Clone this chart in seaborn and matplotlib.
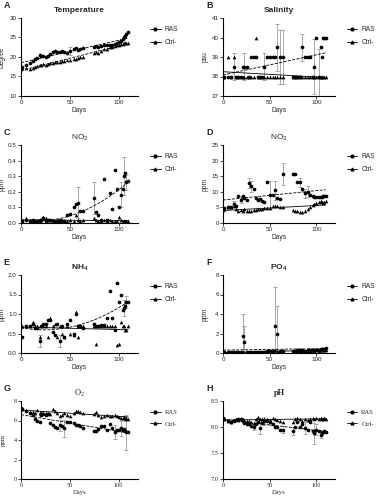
import numpy as np
import pandas as pd
import seaborn as sns
import matplotlib.pyplot as plt
from matplotlib.lines import Line2D

days = [0, 1, 5, 9, 12, 14, 16, 19, 21, 23, 26, 28, 30, 33, 35, 37, 40, 42, 44, 47, 50,
        54, 56, 58, 61, 64, 75, 77, 79, 82, 85, 88, 91, 93, 96, 98, 100, 103, 105, 106,
        107, 108, 110]

# A - temperature
temp_ras = [17.2, 17.5, 18.0, 18.5, 19.0, 19.5, 19.8, 20.5, 20.3, 20.2, 20.0, 20.3, 20.8,
            21.3, 21.5, 21.4, 21.2, 21.5, 21.3, 21.0, 21.5, 22.0, 22.2, 21.8, 22.0, 22.2,
            22.5, 22.8, 22.5, 22.8, 23.0, 23.0, 23.2, 23.0, 23.3, 23.5, 23.8, 24.0, 24.5,
            25.0, 25.3, 25.8, 26.3]
temp_ctrl = [17.0, 17.2, 17.3, 17.0, 17.2, 17.5, 17.8, 18.0, 18.0, 18.2, 18.0, 18.3, 18.5,
             18.5, 18.8, 18.7, 18.8, 19.0, 19.0, 19.2, 19.2, 19.5, 19.5, 19.8, 20.0, 20.0,
             21.0, 21.2, 21.0, 21.5, 22.0, 22.0, 22.5, 22.6, 22.8, 23.0, 23.2, 23.3, 23.3,
             23.5, 23.5, 23.5, 23.6]
temp_err_days = [50]
temp_err = [1.0]

# B - salinity
sal_ras = [38, 38, 38, 38, 38.5, 38, 38, 38, 38.5, 38.5, 38.5, 38, 39, 39, 39, 38, 38, 38,
           38.5, 39, 39, 39, 39, 39.5, 39, 39, 38, 38, 38, 38, 39.5, 39, 39, 39, 38, 38.5,
           40, 38, 39.5, 39, 40, 40, 40]
sal_ctrl = [38, 38, 39, 38, 39, 38, 38, 38, 38, 38, 38, 38, 38, 38, 40, 38, 38, 38, 38, 38,
            38, 38, 38, 38, 38, 38, 38, 38, 38, 38, 38, 38, 38, 38, 38, 38, 38, 38, 38, 38,
            38, 38, 38]
sal_err_days = [12, 23, 44, 58, 61, 64, 85, 98, 103]
sal_err = [0.7, 0.7, 0.7, 1.2, 1.4, 1.4, 0.7, 1.4, 1.4]

# C - NO2
no2_ras = [0.01, 0.01, 0.02, 0.01, 0.02, 0.01, 0.01, 0.02, 0.02, 0.03, 0.01, 0.02, 0.02,
           0.01, 0.01, 0.01, 0.02, 0.01, 0.01, 0.05, 0.06, 0.10, 0.12, 0.13, 0.08, 0.08,
           0.16, 0.07, 0.05, 0.02, 0.28, 0.02, 0.19, 0.09, 0.34, 0.22, 0.10, 0.18, 0.22,
           0.30, 0.32, 0.26, 0.27]
no2_ctrl = [0.01, 0.01, 0.03, 0.02, 0.01, 0.01, 0.02, 0.01, 0.02, 0.04, 0.03, 0.02, 0.02,
            0.02, 0.01, 0.02, 0.01, 0.02, 0.01, 0.01, 0.02, 0.01, 0.05, 0.02, 0.01, 0.02,
            0.03, 0.02, 0.01, 0.01, 0.02, 0.01, 0.02, 0.01, 0.01, 0.01, 0.04, 0.02, 0.01,
            0.01, 0.01, 0.01, 0.01]
no2_err_days = [58, 75, 103, 106, 108]
no2_err = [0.10, 0.10, 0.08, 0.12, 0.05]

# D - NO3
no3_ras = [4.5, 4.8, 5.2, 5.0, 6.0, 5.5, 8.5, 7.5, 8.5, 8.0, 7.5, 12.8, 11.8, 11.0, 8.0,
           7.5, 7.8, 7.0, 6.8, 13.0, 9.0, 9.0, 10.5, 8.0, 7.8, 15.8, 15.8, 15.8, 13.0, 13.0,
           11.0, 9.5, 10.0, 9.0, 8.5, 8.2, 8.3, 8.3, 8.4, 8.3, 8.5, 8.6, 8.6]
no3_ctrl = [4.2, 4.5, 5.2, 5.0, 5.5, 4.5, 4.0, 4.2, 3.8, 4.5, 4.0, 3.8, 3.8, 4.2, 4.3, 4.5,
            4.5, 4.6, 4.8, 4.7, 4.8, 5.5, 5.5, 5.3, 5.2, 5.0, 4.2, 4.0, 3.8, 3.5, 3.5, 3.7,
            4.5, 5.0, 5.8, 6.0, 6.5, 6.8, 7.0, 6.8, 6.5, 6.8, 7.0]
no3_err_days = [12, 19, 28, 30, 50, 56, 64, 82, 88, 91]
no3_err = [1.0, 1.2, 1.5, 1.8, 4.5, 3.0, 3.5, 1.5, 1.5, 1.8]

# E - NH4
nh4_ras = [0.42, 0.40, 0.70, 0.70, 0.75, 0.65, 0.65, 0.30, 0.70, 0.75, 0.75, 0.85, 0.85,
           0.55, 0.45, 0.75, 0.30, 0.70, 0.40, 0.75, 0.85, 0.50, 1.00, 0.70, 0.70, 0.65,
           0.75, 0.70, 0.70, 0.72, 0.72, 0.90, 1.60, 0.90, 0.60, 1.80, 1.30, 1.50, 1.10,
           1.15, 1.20, 1.30, 1.30]
nh4_ctrl = [0.70, 0.70, 0.70, 0.70, 0.80, 0.70, 0.70, 0.40, 0.70, 0.70, 0.70, 0.40, 0.90,
            0.70, 0.75, 0.40, 0.70, 0.50, 0.40, 0.70, 0.50, 0.45, 1.05, 0.40, 0.70, 0.70,
            0.70, 0.23, 0.70, 0.70, 0.70, 0.70, 0.70, 0.70, 0.70, 0.20, 0.22, 0.80, 0.70,
            0.70, 0.60, 0.60, 0.70]
nh4_err_days = [19, 40, 106, 108]
nh4_err = [0.15, 0.15, 0.20, 0.15]

# F - PO4
po4_ras = [0.1, 0.1, 0.1, 0.1, 0.1, 0.15, 0.1, 0.1, 1.7, 1.1, 0.1, 0.1, 0.15, 0.1, 0.1,
           0.1, 0.1, 0.1, 0.15, 0.2, 0.2, 0.2, 2.8, 2.0, 0.2, 0.2, 0.25, 0.25, 0.3, 0.3,
           0.3, 0.25, 0.3, 0.3, 0.3, 0.35, 0.3, 0.35, 0.4, 0.4, 0.45, 0.45, 0.5]
po4_ctrl = [0.05, 0.05, 0.1, 0.05, 0.1, 0.05, 0.05, 0.05, 0.1, 0.05, 0.1, 0.05, 0.1, 0.1,
            0.05, 0.1, 0.1, 0.15, 0.1, 0.2, 0.2, 0.15, 0.3, 0.2, 0.2, 0.2, 0.2, 0.25, 0.2,
            0.25, 0.25, 0.2, 0.2, 0.25, 0.2, 0.25, 0.3, 0.25, 0.3, 0.3, 0.35, 0.3, 0.35]
po4_err_days = [21, 23, 56, 58]
po4_err = [2.3, 1.7, 4.0, 2.8]

# G - O2
o2_ras = [7.3, 7.2, 7.0, 6.8, 6.6, 6.2, 6.0, 5.8, 6.6, 6.7, 6.6, 6.7, 5.7, 5.5, 5.3, 5.2,
          5.5, 5.4, 5.2, 5.8, 5.8, 5.7, 5.5, 5.5, 5.4, 5.2, 4.9, 4.9, 5.1, 5.4, 5.4, 5.0,
          5.6, 5.2, 4.8, 5.0, 5.0, 5.2, 5.0, 5.1, 4.9, 4.8, 4.8]
o2_ctrl = [7.3, 7.2, 7.1, 6.9, 6.9, 6.8, 7.1, 6.8, 6.9, 6.8, 6.8, 6.8, 6.7, 7.2, 7.0, 6.8,
           6.5, 6.6, 6.8, 6.6, 6.5, 6.8, 7.0, 7.0, 6.9, 6.8, 6.7, 6.9, 6.6, 6.4, 6.5, 6.6,
           6.5, 6.5, 6.6, 6.5, 6.4, 6.3, 6.3, 6.4, 6.2, 6.3, 6.2]
o2_err_days = [40, 44, 96, 103, 108]
o2_err = [0.6, 0.9, 0.7, 0.8, 1.8]

# H - pH
ph_ras = [8.18, 8.15, 8.12, 8.10, 8.12, 8.14, 8.15, 8.15, 8.12, 8.08, 8.05, 8.05, 8.02,
          8.00, 8.05, 8.10, 7.98, 8.08, 8.12, 8.12, 8.10, 8.05, 8.00, 8.00, 7.95, 7.95,
          7.92, 8.00, 8.10, 8.00, 8.05, 7.98, 7.95, 8.10, 7.92, 7.88, 7.95, 7.92, 7.85,
          7.88, 7.90, 7.92, 7.90]
ph_ctrl = [8.18, 8.16, 8.12, 8.10, 8.14, 8.15, 8.14, 8.16, 8.15, 8.14, 8.12, 8.12, 8.10,
           8.08, 8.15, 8.20, 8.15, 8.16, 8.15, 8.15, 8.14, 8.18, 8.16, 8.14, 8.12, 8.10,
           8.10, 8.15, 8.18, 8.15, 8.12, 8.15, 8.14, 8.16, 8.18, 8.15, 8.18, 8.16, 8.18,
           8.16, 8.15, 8.17, 8.15]
ph_err_days = [33, 40, 44, 50, 64, 75, 88, 98, 100, 105]
ph_err = [0.06, 0.12, 0.08, 0.06, 0.06, 0.08, 0.12, 0.20, 0.10, 0.06]

panels = [
    ('A', 'Temperature', 'Degree', temp_ras, temp_ctrl, temp_err_days, temp_err,
     (10, 30), [10, 15, 20, 25, 30], 1, '--', 'bold', False),
    ('B', 'Salinity', 'psu', sal_ras, sal_ctrl, sal_err_days, sal_err,
     (37, 41), [37, 38, 39, 40, 41], 1, '-', 'bold', False),
    ('C', 'NO$_2$', 'ppm', no2_ras, no2_ctrl, no2_err_days, no2_err,
     (0, 0.5), [0.0, 0.1, 0.2, 0.3, 0.4, 0.5], 2, '-', 'normal', False),
    ('D', 'NO$_3$', 'ppm', no3_ras, no3_ctrl, no3_err_days, no3_err,
     (0, 25), [0, 5, 10, 15, 20, 25], 1, '-', 'normal', False),
    ('E', 'NH$_4$', 'ppm', nh4_ras, nh4_ctrl, nh4_err_days, nh4_err,
     (0, 2.0), [0.0, 0.5, 1.0, 1.5, 2.0], 2, '-', 'bold', False),
    ('F', 'PO$_4$', 'ppm', po4_ras, po4_ctrl, po4_err_days, po4_err,
     (0, 8), [0, 2, 4, 6, 8], 1, '-', 'bold', False),
    ('G', 'O$_2$', 'ppm', o2_ras, o2_ctrl, o2_err_days, o2_err,
     (0, 8), [0, 2, 4, 6, 8], 1, '-', 'normal', True),
    ('H', 'pH', '', ph_ras, ph_ctrl, ph_err_days, ph_err,
     (7.0, 8.5), [7.0, 7.5, 8.0, 8.5], 1, '-', 'bold', True),
]

sns.set_style('ticks')
plt.rcParams['font.family'] = ['DejaVu Sans']
plt.rcParams['mathtext.default'] = 'regular'

fig = plt.figure(figsize=(3.86, 5.0), dpi=100)

col_left = [21 / 386, 223 / 386]
col_width = [117 / 386, 112 / 386]
row_bottom = [1 - 96 / 500, 1 - 223 / 500, 1 - 353 / 500, 1 - 479 / 500]
row_h = 78 / 500

for i, (letter, title, ylab, ras, ctrl, edays, errs, ylim, yticks,
        order, ctrl_ls, tweight, serif) in enumerate(panels):
    r, c = i // 2, i % 2
    ax = fig.add_axes([col_left[c], row_bottom[r], col_width[c], row_h])
    fam = ['Liberation Serif'] if serif else ['Liberation Sans']

    df = pd.DataFrame({'Days': days, 'RAS': ras, 'Ctrl-': ctrl})
    lookup = dict(zip(days, ras))
    ax.errorbar(edays, [lookup[d] for d in edays], yerr=errs, fmt='none',
                ecolor='#9a9a9a', elinewidth=0.6, capsize=1.2, capthick=0.6, zorder=1)

    sns.scatterplot(data=df, x='Days', y='RAS', marker='o', color='black', s=7,
                    linewidth=0, ax=ax, zorder=3)
    sns.scatterplot(data=df, x='Days', y='Ctrl-', marker='^', color='black', s=7,
                    linewidth=0, ax=ax, zorder=3)
    sns.regplot(data=df, x='Days', y='RAS', scatter=False, ci=None, order=order,
                color='black', line_kws={'lw': 0.6, 'ls': '--'}, ax=ax)
    sns.regplot(data=df, x='Days', y='Ctrl-', scatter=False, ci=None, order=1,
                color='black', line_kws={'lw': 0.6, 'ls': ctrl_ls}, ax=ax)

    ax.set_xlim(0, 120)
    ax.set_ylim(*ylim)
    ax.set_xticks([0, 50, 100])
    ax.set_yticks(yticks)
    ax.set_xlabel('Days', fontsize=4.8, family=fam, labelpad=1.5)
    ax.set_ylabel(ylab, fontsize=4.8, family=fam)
    ax.yaxis.set_label_coords(-0.13, 0.5)
    ax.tick_params(length=2, width=0.6, labelsize=4.5, pad=1)
    for lab in ax.get_xticklabels() + ax.get_yticklabels():
        lab.set_family(fam)
    for s in ['left', 'bottom']:
        ax.spines[s].set_linewidth(0.8)
        ax.spines[s].set_color('black')
    sns.despine(ax=ax)

    ax.set_title(title, fontsize=6, fontweight=tweight, family=fam, pad=4)
    ax.text(-0.15, 1.1, letter, transform=ax.transAxes, fontsize=6.5, fontweight='bold',
            family=['Liberation Sans'], ha='left', va='bottom')

    handles = [Line2D([], [], color='black', lw=0.6, marker='o', ms=2),
               Line2D([], [], color='black', lw=0.6, marker='^', ms=2)]
    ax.legend(handles, ['RAS', 'Ctrl-'], loc='upper left', bbox_to_anchor=(1.05, 0.97),
              frameon=False, handlelength=1.6, handletextpad=0.6, labelspacing=0.9,
              prop={'family': fam, 'size': 4.8})

fig.savefig('out.png', dpi=100)
